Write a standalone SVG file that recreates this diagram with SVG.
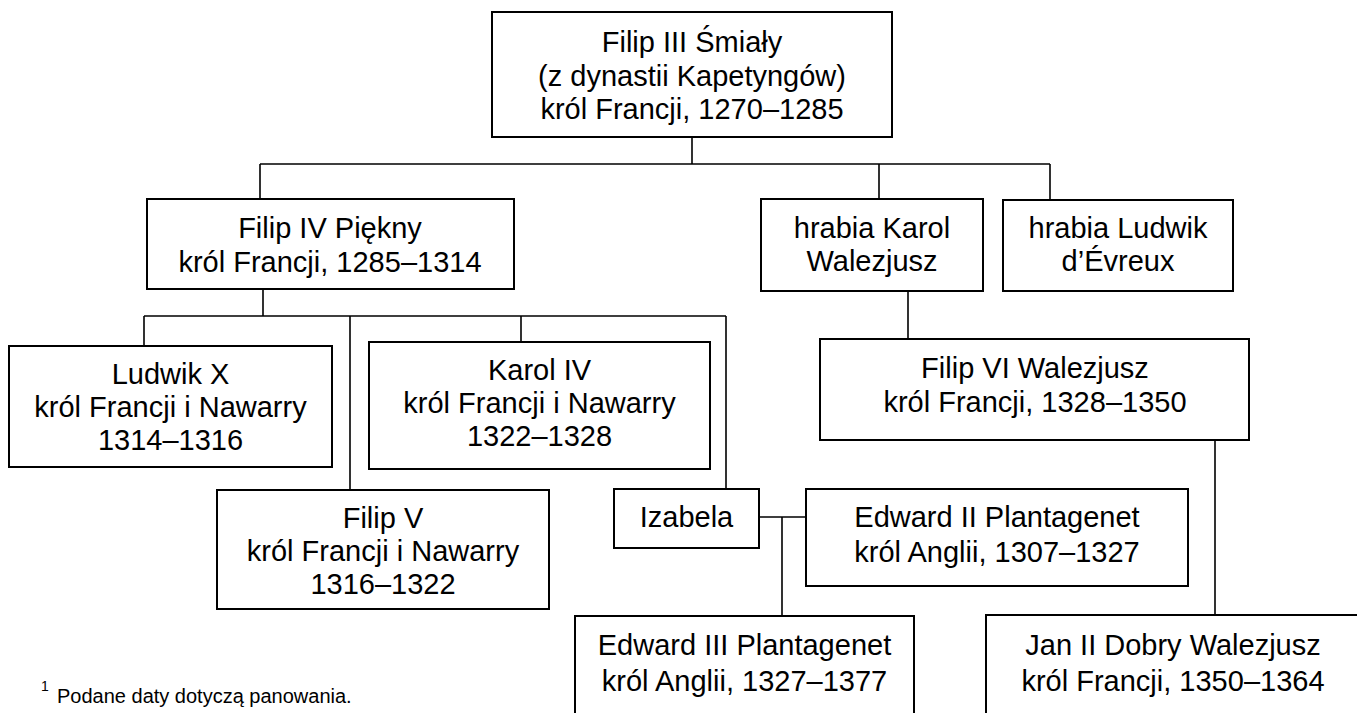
<svg xmlns="http://www.w3.org/2000/svg" width="1357" height="713" viewBox="0 0 1357 713">
<style>
.box{fill:#fff;stroke:#000;stroke-width:2}
.ln{fill:none;stroke:#000;stroke-width:1.6}
text{font-family:"Liberation Sans",Arial,sans-serif;font-size:29px;fill:#000;text-anchor:middle}
.fn{font-size:20px;text-anchor:start}
.sup{font-size:14px;text-anchor:start}
</style>
<rect width="1357" height="713" fill="#fff"/>
<g id="connectors">
<path class="ln" d="M692 137V164M260 164H1050M260 164V199M879 164V199M1050 164V200"/>
<path class="ln" d="M263 289V316M144 316H726M144 316V346M350 316V490M521 316V342M726 316V489"/>
<path class="ln" d="M908 291V339M1215 440V615"/>
<path class="ln" d="M759 517H806M782 517V616"/>
</g>
<g id="filip3"><rect class="box" x="492" y="12" width="400" height="125"/>
<text x="692" y="52">Filip III Śmiały</text><text x="692" y="86">(z dynastii Kapetyngów)</text><text x="692" y="119">król Francji, 1270–1285</text></g>
<g id="filip4"><rect class="box" x="147" y="199" width="367" height="90"/>
<text x="330" y="238">Filip IV Piękny</text><text x="330" y="272">król Francji, 1285–1314</text></g>
<g id="karol"><rect class="box" x="761" y="199" width="222" height="92"/>
<text x="872" y="238">hrabia Karol</text><text x="872" y="271">Walezjusz</text></g>
<g id="ludwik"><rect class="box" x="1003" y="200" width="230" height="91"/>
<text x="1118" y="238">hrabia Ludwik</text><text x="1118" y="271">d’Évreux</text></g>
<g id="filip6"><rect class="box" x="820" y="339" width="429" height="101"/>
<text x="1035" y="378">Filip VI Walezjusz</text><text x="1035" y="412">król Francji, 1328–1350</text></g>
<g id="ludwik10"><rect class="box" x="9" y="346" width="323" height="121"/>
<text x="170.5" y="384">Ludwik X</text><text x="170.5" y="417">król Francji i Nawarry</text><text x="170.5" y="450">1314–1316</text></g>
<g id="karol4"><rect class="box" x="369" y="342" width="341" height="127"/>
<text x="539.5" y="380">Karol IV</text><text x="539.5" y="413">król Francji i Nawarry</text><text x="539.5" y="446">1322–1328</text></g>
<g id="filip5"><rect class="box" x="217" y="490" width="332" height="119"/>
<text x="383" y="528">Filip V</text><text x="383" y="561">król Francji i Nawarry</text><text x="383" y="594">1316–1322</text></g>
<g id="izabela"><rect class="box" x="614" y="489" width="145" height="59"/>
<text x="686.5" y="527">Izabela</text></g>
<g id="edward2"><rect class="box" x="806" y="489" width="382" height="97"/>
<text x="997" y="527">Edward II Plantagenet</text><text x="997" y="562">król Anglii, 1307–1327</text></g>
<g id="edward3"><rect class="box" x="575" y="616" width="339" height="120"/>
<text x="744.5" y="655">Edward III Plantagenet</text><text x="744.5" y="691">król Anglii, 1327–1377</text></g>
<g id="jan2"><rect class="box" x="986" y="615" width="374" height="120"/>
<text x="1173" y="655">Jan II Dobry Walezjusz</text><text x="1173" y="691">król Francji, 1350–1364</text></g>
<g id="footnote"><text class="sup" x="41" y="691">1</text><text class="fn" x="57" y="703">Podane daty dotyczą panowania.</text></g>
</svg>
